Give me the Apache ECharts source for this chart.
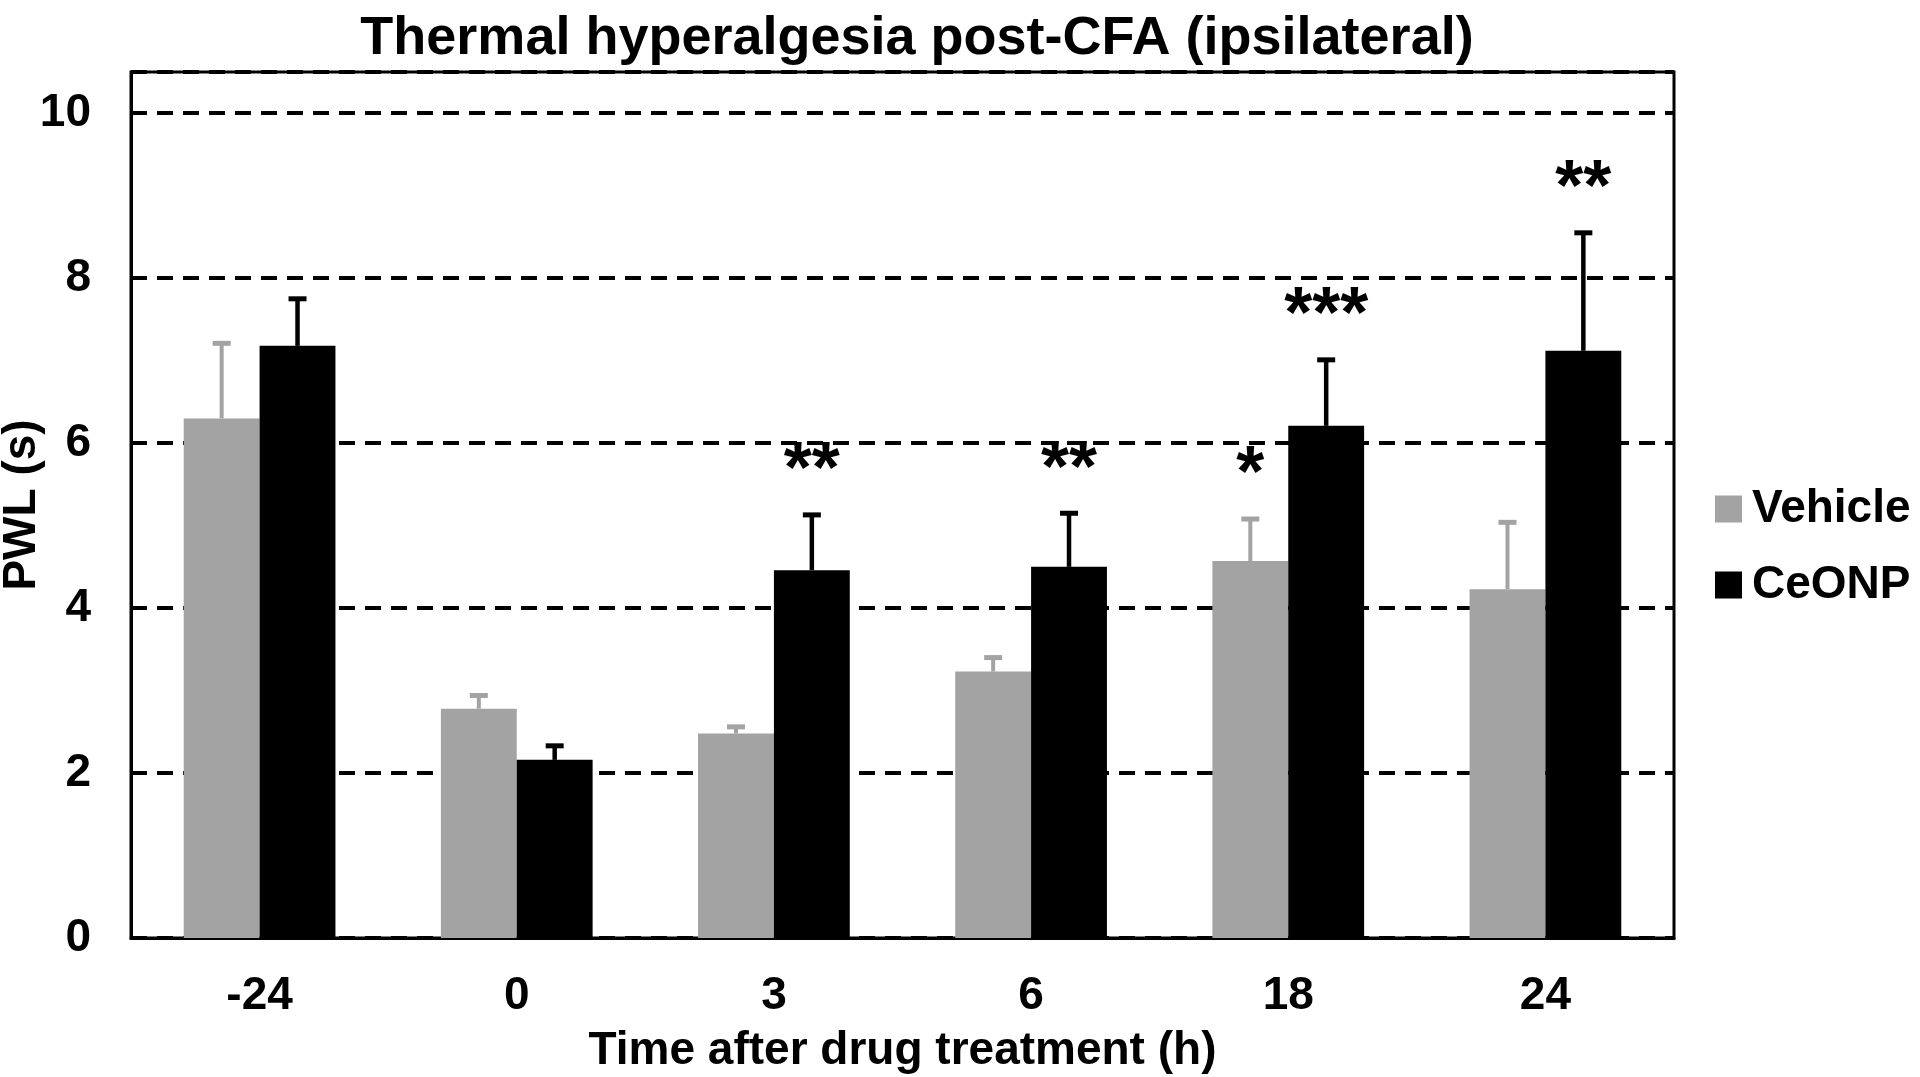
<!DOCTYPE html>
<html>
<head>
<meta charset="utf-8">
<script src="https://cdn.jsdelivr.net/npm/echarts@6/dist/echarts.min.js"></script>
<style>
html,body{margin:0;padding:0;background:#fff;}
#chart{width:1920px;height:1077px;}
</style>
</head>
<body>
<div id="chart"></div>
<script>
// ---- data ----
const categories = ['-24', '0', '3', '6', '18', '24'];
const vehicleMean = [6.30, 2.78, 2.48, 3.23, 4.57, 4.23];
const vehicleSem  = [0.91, 0.16, 0.08, 0.17, 0.51, 0.81];
const ceonpMean   = [7.18, 2.16, 4.46, 4.50, 6.21, 7.12];
const ceonpSem    = [0.57, 0.17, 0.67, 0.65, 0.80, 1.43];
const vehicleSig  = ['', '', '', '', '*', ''];
const ceonpSig    = ['', '', '**', '**', '***', '**'];
const yTicks = [0, 2, 4, 6, 8, 10];

const FONT = '"Liberation Sans", Arial, Helvetica, sans-serif';
const GRAY = '#a3a3a3';
const STAR_FS = 72;

function errData(mean, sem, sig) {
  return mean.map((m, i) => [i, m, +(m + sem[i]).toFixed(3), sig[i]]);
}

function makeRender(sign, color, lw, capW, capLw, sig) {
  return function (params, api) {
    const i = api.value(0), m = api.value(1), t = api.value(2);
    const band = api.size([1, 0])[0];
    const c0 = api.coord([i, m]);
    const c1 = api.coord([i, t]);
    const x = c0[0] + sign * band * 0.1475;
    const children = [
      {type: 'line', shape: {x1: x, y1: c0[1], x2: x, y2: c1[1]}, style: {stroke: color, lineWidth: lw}},
      {type: 'line', shape: {x1: x - capW / 2, y1: c1[1], x2: x + capW / 2, y2: c1[1]}, style: {stroke: color, lineWidth: capLw}}
    ];
    const s = sig[params.dataIndex];
    if (s) {
      children.push({
        type: 'text',
        style: {
          text: s, x: x, y: c1[1] - 57 + 0.2 * STAR_FS,
          align: 'center', verticalAlign: 'middle',
          font: 'bold ' + STAR_FS + 'px ' + FONT, fill: '#000'
        }
      });
    }
    return {type: 'group', children: children};
  };
}

const chart = echarts.init(document.getElementById('chart'), null, {renderer: 'canvas'});
chart.setOption({
  animation: false,
  backgroundColor: '#fff',
  title: {
    text: 'Thermal hyperalgesia post-CFA (ipsilateral)',
    left: 912, top: 7, textAlign: 'center',
    textStyle: {fontFamily: FONT, fontWeight: 'bold', fontSize: 54, color: '#000'}
  },
  legend: {
    data: ['Vehicle', 'CeONP'],
    orient: 'vertical',
    left: 1710, top: 481, padding: 5,
    itemWidth: 27, itemHeight: 27, itemGap: 30,
    icon: 'rect',
    textStyle: {fontFamily: FONT, fontWeight: 'bold', fontSize: 46, color: '#000', padding: [0, 0, 0, 5]}
  },
  grid: {
    left: 131, right: 246, top: 72, bottom: 139,
    containLabel: false, outerBoundsMode: 'none',
    show: true, borderColor: '#000', borderWidth: 3, backgroundColor: 'transparent'
  },
  xAxis: {
    type: 'category',
    data: categories,
    axisLine: {lineStyle: {color: '#000', width: 3}},
    axisTick: {show: false},
    axisLabel: {fontFamily: FONT, fontWeight: 'bold', fontSize: 46, color: '#000', margin: 35},
    name: 'Time after drug treatment (h)',
    nameLocation: 'middle', nameGap: 90, nameMoveOverlap: false,
    nameTextStyle: {fontFamily: FONT, fontWeight: 'bold', fontSize: 46, color: '#000'}
  },
  yAxis: {
    type: 'value',
    min: 0, max: 10.5, interval: 2,
    axisLine: {show: true, lineStyle: {color: '#000', width: 3}},
    axisTick: {show: true, inside: true, length: 7, lineStyle: {color: '#000', width: 3}},
    axisLabel: {
      fontFamily: FONT, fontWeight: 'bold', fontSize: 46, color: '#000', margin: 40,
      formatter: v => (yTicks.indexOf(v) >= 0 ? String(v) : '')
    },
    splitLine: {lineStyle: {color: '#000', width: 4, type: [16, 10]}},
    name: 'PWL (s)',
    nameLocation: 'middle', nameGap: 86, nameMoveOverlap: false,
    nameTextStyle: {fontFamily: FONT, fontWeight: 'bold', fontSize: 46, color: '#000'}
  },
  series: [
    {
      name: 'Vehicle', type: 'bar', data: vehicleMean,
      barGap: '0%', barCategoryGap: '41%',
      itemStyle: {color: GRAY}, z: 2
    },
    {
      name: 'CeONP', type: 'bar', data: ceonpMean,
      barGap: '0%', barCategoryGap: '41%',
      itemStyle: {color: '#000'}, z: 2
    },
    {
      name: 'vehErr', type: 'custom', data: errData(vehicleMean, vehicleSem, vehicleSig),
      renderItem: makeRender(-1, GRAY, 4, 18, 5, vehicleSig), z: 5, silent: true,
      encode: {x: 0, y: [1, 2]}
    },
    {
      name: 'ceErr', type: 'custom', data: errData(ceonpMean, ceonpSem, ceonpSig),
      renderItem: makeRender(1, '#000', 4.5, 18, 5, ceonpSig), z: 5, silent: true,
      encode: {x: 0, y: [1, 2]}
    }
  ]
});
</script>
</body>
</html>
